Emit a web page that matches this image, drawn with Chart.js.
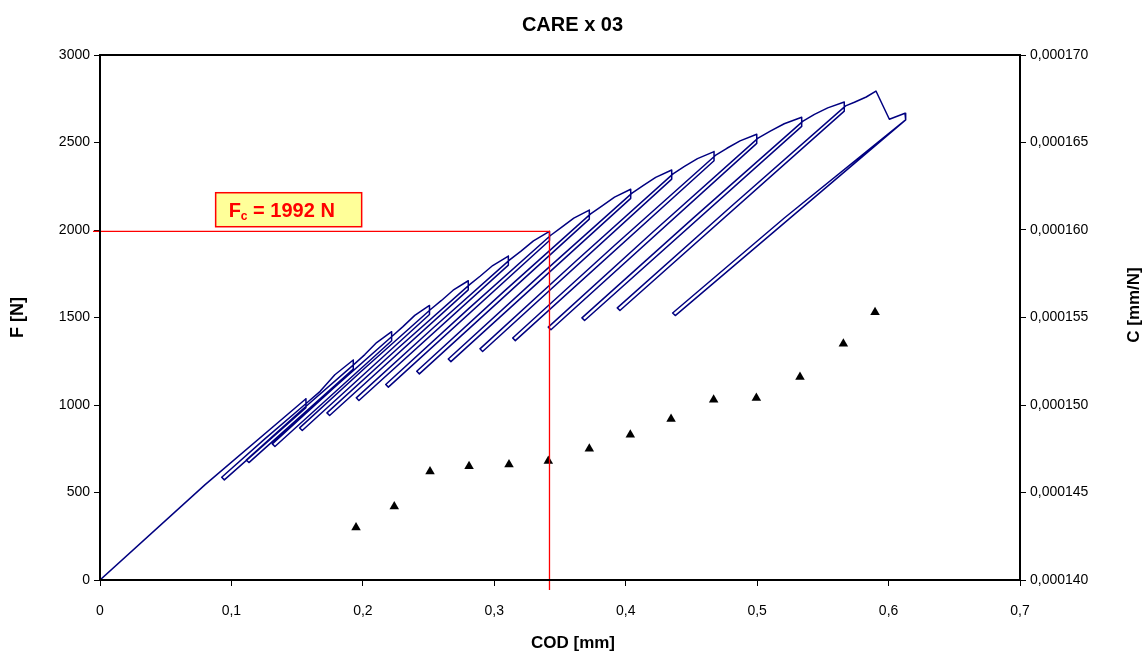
<!DOCTYPE html>
<html>
<head>
<meta charset="utf-8">
<script src="https://cdn.jsdelivr.net/npm/chart.js@4.4.1/dist/chart.umd.min.js"></script>
<style>
  html, body { margin: 0; padding: 0; background: #fff; }
  #wrap { width: 1145px; height: 655px; position: relative; }
</style>
</head>
<body>
<div id="wrap"><canvas id="chart"></canvas></div>
<script>
// load record: COD [mm] and F [N], in recording order
// each cycle: peak, drop, unload tip, reload (3 pts), envelope (2 pts)
const codValues = [
  0, 0.080,
  0.1567, 0.1567, 0.0946, 0.0926, 0.1252, 0.1577, 0.1675, 0.1787,
  0.1927, 0.1927, 0.1133, 0.1113, 0.1527, 0.1937, 0.2015, 0.2105,
  0.2219, 0.2219, 0.1331, 0.1311, 0.1770, 0.2229, 0.2305, 0.2395,
  0.2507, 0.2507, 0.1539, 0.1519, 0.2018, 0.2517, 0.2596, 0.2687,
  0.2802, 0.2802, 0.1747, 0.1727, 0.2271, 0.2812, 0.2894, 0.2988,
  0.3107, 0.3107, 0.1970, 0.1950, 0.2534, 0.3117, 0.3201, 0.3298,
  0.3420, 0.3420, 0.2194, 0.2174, 0.2803, 0.3430, 0.3511, 0.3605,
  0.3723, 0.3723, 0.2430, 0.2410, 0.3072, 0.3733, 0.3818, 0.3915,
  0.4038, 0.4038, 0.2670, 0.2650, 0.3349, 0.4048, 0.4132, 0.4228,
  0.4350, 0.4350, 0.2911, 0.2891, 0.3626, 0.4360, 0.4447, 0.4546,
  0.4672, 0.4672, 0.3160, 0.3140, 0.3912, 0.4682, 0.4770, 0.4870,
  0.4997, 0.4997, 0.3431, 0.3411, 0.4209, 0.5007, 0.5100, 0.5206,
  0.5339, 0.5339, 0.3687, 0.3667, 0.4509, 0.5349, 0.5436, 0.5537,
  0.5663, 0.5663, 0.3956, 0.3936, 0.4806, 0.5673, 0.5740, 0.5830,
  0.5904, 0.6006, 0.6125, 0.6130, 0.4377, 0.4357, 0.5209, 0.6118
];
const forceValues = [
  0, 545,
  1036, 984, 572, 587, 805, 1014, 1078, 1173,
  1257, 1205, 671, 686, 966, 1235, 1288, 1357,
  1419, 1367, 763, 778, 1092, 1397, 1448, 1512,
  1569, 1517, 854, 869, 1213, 1547, 1596, 1656,
  1710, 1658, 940, 955, 1327, 1688, 1737, 1797,
  1851, 1799, 1026, 1041, 1440, 1829, 1878, 1938,
  1992, 1940, 1102, 1117, 1549, 1970, 2015, 2068,
  2114, 2062, 1178, 1193, 1648, 2092, 2137, 2188,
  2233, 2181, 1248, 1263, 1742, 2211, 2254, 2301,
  2343, 2291, 1306, 1321, 1826, 2321, 2363, 2408,
  2448, 2396, 1368, 1383, 1910, 2426, 2467, 2509,
  2547, 2495, 1430, 1445, 1990, 2525, 2565, 2607,
  2644, 2592, 1483, 1498, 2065, 2622, 2661, 2698,
  2731, 2679, 1540, 1555, 2137, 2709, 2730, 2760,
  2794, 2633, 2667, 2629, 1511, 1526, 2070, 2622
];

// compliance of each cycle, right axis
const complianceCod = [0.1948, 0.2239, 0.2511, 0.2808, 0.3112, 0.3411, 0.3723,
  0.4035, 0.4345, 0.4669, 0.4994, 0.5326, 0.5656, 0.5897];
const complianceValues = [0.0001430, 0.0001442, 0.0001462, 0.0001465, 0.0001466,
  0.0001468, 0.0001475, 0.0001483, 0.0001492, 0.0001503, 0.0001504, 0.0001516,
  0.0001535, 0.0001553];

const codTicks = [0, 0.1, 0.2, 0.3, 0.4, 0.5, 0.6, 0.7];
const forceTicks = [0, 500, 1000, 1500, 2000, 2500, 3000];
const complianceTicks = [0.000140, 0.000145, 0.000150, 0.000155, 0.000160, 0.000165, 0.000170];

const criticalCod = 0.342;
const criticalForce = 1992;

const FONT = "'Liberation Sans', Arial, sans-serif";
const comma = (v, d) => v.toFixed(d).replace(".", ",");
const setTicks = (list) => (scale) => { scale.ticks = list.map(v => ({ value: v })); };

const markerPlugin = {
  id: "fcMarker",
  afterDatasetsDraw(chart) {
    const { ctx, chartArea, scales } = chart;
    const px = scales.x.getPixelForValue(criticalCod);
    const py = scales.y.getPixelForValue(criticalForce);
    ctx.save();

    // red guide lines to the critical point
    ctx.strokeStyle = "#ff0000";
    ctx.lineWidth = 1.3;
    ctx.beginPath();
    ctx.moveTo(chartArea.left - 7, py);
    ctx.lineTo(px, py);
    ctx.lineTo(px, chartArea.bottom + 10);
    ctx.stroke();

    // label box
    const bx = scales.x.getPixelForValue(0.088);
    const by = scales.y.getPixelForValue(2213);
    ctx.fillStyle = "#ffff99";
    ctx.fillRect(bx, by, 146, 34);
    ctx.lineWidth = 1.5;
    ctx.strokeRect(bx, by, 146, 34);

    ctx.fillStyle = "#ff0000";
    ctx.textBaseline = "alphabetic";
    ctx.textAlign = "left";
    let tx = bx + 13;
    const base = by + 24;
    ctx.font = "bold 20px " + FONT;
    ctx.fillText("F", tx, base);
    tx += ctx.measureText("F").width;
    ctx.font = "bold 12px " + FONT;
    ctx.fillText("c", tx, base + 3);
    tx += ctx.measureText("c").width;
    ctx.font = "bold 20px " + FONT;
    ctx.fillText(" = " + criticalForce + " N", tx, base);

    // frame of the plot area
    ctx.strokeStyle = "#000";
    ctx.lineWidth = 2;
    ctx.strokeRect(chartArea.left, chartArea.top, chartArea.right - chartArea.left, chartArea.bottom - chartArea.top);

    // axis titles for bottom and right axes
    ctx.fillStyle = "#000";
    ctx.font = "bold 17px " + FONT;
    ctx.textAlign = "center";
    ctx.textBaseline = "middle";
    ctx.fillText("COD [mm]", 573, 643);
    ctx.translate(1134, 305);
    ctx.rotate(-Math.PI / 2);
    ctx.fillText("C [mm/N]", 0, 0);
    ctx.restore();
  }
};

new Chart(document.getElementById("chart"), {
  data: {
    datasets: [
      {
        type: "line",
        data: codValues.map((x, i) => ({ x, y: forceValues[i] })),
        yAxisID: "y",
        borderColor: "#000080",
        borderWidth: 1.5,
        borderJoinStyle: "round",
        pointRadius: 0,
        tension: 0,
        fill: false,
      },
      {
        type: "scatter",
        data: complianceCod.map((x, i) => ({ x, y: complianceValues[i] })),
        yAxisID: "y2",
        pointStyle: "triangle",
        pointRadius: 5.5,
        backgroundColor: "#000",
        borderColor: "#000",
        borderWidth: 0,
      },
    ],
  },
  options: {
    responsive: true,
    maintainAspectRatio: false,
    animation: false,
    layout: { padding: 0 },
    plugins: {
      legend: { display: false },
      tooltip: { enabled: false },
      title: {
        display: true,
        text: "CARE x 03",
        color: "#000",
        font: { family: FONT, size: 20, weight: "bold" },
        padding: { top: 13, bottom: 18 },
      },
    },
    scales: {
      x: {
        type: "linear",
        position: "bottom",
        min: 0,
        max: 0.7,
        afterBuildTicks: setTicks(codTicks),
        afterFit: (s) => { s.height = 75; },
        grid: { drawOnChartArea: false, tickLength: 6, color: "#000" },
        border: { color: "#000", width: 2 },
        ticks: {
          color: "#000",
          padding: 17,
          maxRotation: 0,
          font: { family: FONT, size: 14 },
          callback: (v) => (v === 0 ? "0" : comma(v, 1)),
        },
      },
      y: {
        type: "linear",
        position: "left",
        min: 0,
        max: 3000,
        afterBuildTicks: setTicks(forceTicks),
        afterFit: (s) => { s.width = 100; },
        grid: { drawOnChartArea: false, tickLength: 6, color: "#000" },
        border: { color: "#000", width: 2 },
        title: {
          display: true,
          text: "F [N]",
          color: "#000",
          font: { family: FONT, size: 18, weight: "bold" },
          padding: { top: 7, bottom: 0 },
        },
        ticks: {
          color: "#000",
          padding: 4,
          font: { family: FONT, size: 14 },
          callback: (v) => String(v),
        },
      },
      y2: {
        type: "linear",
        position: "right",
        min: 0.00014,
        max: 0.00017,
        afterBuildTicks: setTicks(complianceTicks),
        afterFit: (s) => { s.width = 125; },
        grid: { drawOnChartArea: false, tickLength: 6, color: "#000" },
        border: { color: "#000", width: 2 },
        ticks: {
          color: "#000",
          padding: 4,
          font: { family: FONT, size: 14 },
          callback: (v) => comma(v, 6),
        },
      },
    },
  },
  plugins: [markerPlugin],
});
</script>
</body>
</html>
